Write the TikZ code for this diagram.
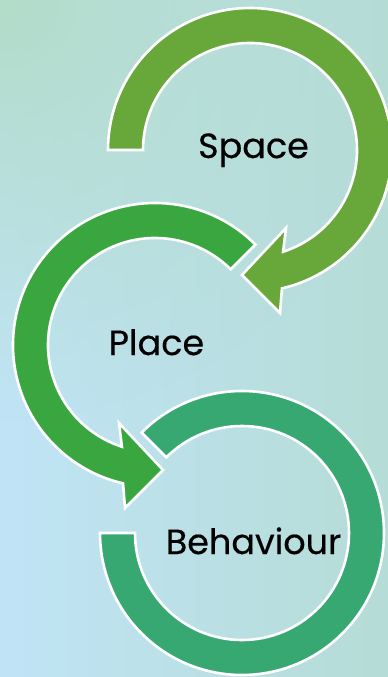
\documentclass[tikz,border=0pt]{standalone}
\usepackage{fontspec}
\setmainfont{Poppins}
\newfontfamily\cyclefont{Poppins}[FakeBold=0.4]
\usetikzlibrary{calc,shadings,fadings}
\definecolor{bgMint}{HTML}{B3DCC9}
\definecolor{bgSky}{HTML}{C0E4F6}
\definecolor{bgTeal}{HTML}{B5DCD6}
\definecolor{spaceGreen}{HTML}{68A83A}
\definecolor{placeGreen}{HTML}{3AA63F}
\definecolor{behavGreen}{HTML}{38A873}
\tikzfading[name=cornerglow, inner color=transparent!0, outer color=transparent!100]
\tikzset{
  ring/.style={draw=white, line width=2.6pt, line join=miter},
  label/.style={font=\cyclefont\fontsize{35}{38}\selectfont, text=black, anchor=base, inner sep=0pt},
}
\begin{document}
\begin{tikzpicture}[x=1pt,y=1pt]
  \useasboundingbox (0,0) rectangle (388,-677);
  \clip (0,0) rectangle (388,-677);
  % background: sky blue on the left, teal on the right, mint glow in the top-left corner
  \shade[left color=bgSky, right color=bgTeal] (0,0) rectangle (388,-677);
  \fill[bgMint, path fading=cornerglow, fit fading=true] (0,0) circle[radius=420];

  \coordinate (cS) at (250,-150);
  \coordinate (cP) at (155,-345);
  \coordinate (cB) at (242,-533);

  % Behaviour: open ring, no arrow head
  \path[ring, fill=behavGreen] ($(cB)+(135:142)$)
    arc[start angle=135, end angle=-180, radius=142]
    -- ($(cB)+(180:107)$)
    arc[start angle=-180, end angle=135, radius=107] -- cycle;

  % Place: counter-clockwise arrow ending towards Behaviour
  \path[ring, fill=placeGreen] ($(cP)+(45:142)$)
    arc[start angle=45, end angle=257, radius=142]
    -- ($(cP)+(-30,-163)$) -- ($(cP)+(8,-125)$) -- ($(cP)+(-36,-78)$)
    -- ($(cP)+(252:107)$)
    arc[start angle=252, end angle=45, radius=107] -- cycle;

  % Space: clockwise arrow ending towards Place
  \path[ring, fill=spaceGreen] ($(cS)+(180:142)$)
    arc[start angle=180, end angle=-77, radius=142]
    -- ($(cS)+(30,-163)$) -- ($(cS)+(-8,-125)$) -- ($(cS)+(36,-78)$)
    -- ($(cS)+(-72:107)$)
    arc[start angle=-72, end angle=180, radius=107] -- cycle;

  \node[label] (space) at (253.5,-158) {Space};
  \node[label] (place) at (156.5,-355) {Place};
  \node[label] (behav) at (253.5,-554) {Behaviour};
\end{tikzpicture}
\end{document}
